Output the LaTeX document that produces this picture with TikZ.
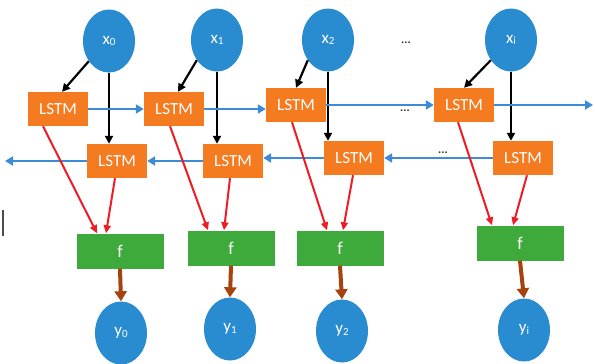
\documentclass[tikz,border=0pt]{standalone}
\usepackage{fontspec}
\setmainfont{Carlito}
\usetikzlibrary{arrows.meta,shapes.geometric}
\definecolor{nodeblue}{HTML}{2A8CD0}
\definecolor{lstmorange}{HTML}{F57B21}
\definecolor{fgreen}{HTML}{3FAA3C}
\definecolor{flowblue}{HTML}{3C8AD8}
\definecolor{gatered}{HTML}{EE1C24}
\definecolor{outbrown}{HTML}{A5420E}
\newcommand\sublabel[2]{#1\raisebox{-1.5pt}{\fontsize{11}{11}\selectfont #2}}
\begin{document}
\begin{tikzpicture}[x=1pt,y=-1pt,
  blob/.style={ellipse, fill=nodeblue, minimum width=52pt, minimum height=63pt,
    inner sep=0pt, text=white, font=\fontsize{17}{17}\selectfont},
  lstm/.style={rectangle, fill=lstmorange, minimum width=60pt, minimum height=34pt,
    inner sep=0pt, text=white, font=\fontsize{17}{17}\selectfont},
  fbox/.style={rectangle, fill=fgreen, minimum width=87pt, minimum height=35pt,
    inner sep=0pt, text=white, font=\fontsize{18}{18}\selectfont},
  inarrow/.style={draw=black, line width=2.2pt, -{Triangle[length=8pt,width=8pt]}},
  flow/.style={draw=flowblue, line width=2.6pt, -{Triangle[length=8pt,width=9pt]}},
  gate/.style={draw=gatered, line width=2pt, -{Triangle[length=8pt,width=7pt]}},
  outarrow/.style={draw=outbrown, line width=4pt, -{Triangle[length=10pt,width=12pt]}},
  dots/.style={font=\fontsize{12}{12}\selectfont\bfseries, text=black!80}]
\useasboundingbox (0,0) rectangle (595,364);
\fill[white] (0,0) rectangle (595,364);

% inputs
\node[blob] (x0) at (109,41) {\sublabel{x}{0}};
\node[blob] (x1) at (217,40) {\sublabel{x}{1}};
\node[blob] (x2) at (328,40) {\sublabel{x}{2}};
\node[blob] (xi) at (511,40) {\sublabel{x}{i}};

% forward LSTM row
\node[lstm] (fa0) at (58,109) {LSTM};
\node[lstm] (fa1) at (174,109) {LSTM};
\node[lstm] (fa2) at (296,105) {LSTM};
\node[lstm] (fai) at (464,105) {LSTM};

% backward LSTM row
\node[lstm] (ba0) at (117,161) {LSTM};
\node[lstm] (ba1) at (233,161) {LSTM};
\node[lstm] (ba2) at (354,158) {LSTM};
\node[lstm] (bai) at (523,158) {LSTM};

% combining layer
\node[fbox] (f0) at (120,251) {f};
\node[fbox] (f1) at (231,248) {f};
\node[fbox] (f2) at (340,248) {f};
\node[fbox] (fi) at (520,243) {f};

% outputs
\node[blob] (y0) at (121,333) {\sublabel{y}{0}};
\node[blob] (y1) at (230,329) {\sublabel{y}{1}};
\node[blob] (y2) at (342,331) {\sublabel{y}{2}};
\node[blob] (yi) at (524,330) {\sublabel{y}{i}};

\coordinate (fwdend) at (593,105);
\coordinate (bwdend) at (5,161);

% ellipsis markers
\node[dots] (d1) at (406,43) {...};
\node[dots] (d2) at (405,111) {...};
\node[dots] (d3) at (443,153) {...};

% inputs into both directions
\foreach \x/\a/\s in {x0/fa0/4, x1/fa1/4, x2/fa2/0, xi/fai/0} {
  \draw[inarrow] (\x.225) -- ([xshift=\s pt]\a.north);
}
\foreach \x/\b in {x0/ba0, x1/ba1, x2/ba2, xi/bai} {
  \draw[inarrow] (\x.south) -- (\x.south |- \b.north);
}

% forward recurrence
\draw[flow] (fa0.east) -- (fa0.east -| fa1.west);
\draw[flow] (fa1.east) -- (fa1.east -| fa2.west);
\draw[flow] (fa2.east) -- (fa2.east -| fai.west);
\draw[flow] (fai.east) -- (fwdend);

% backward recurrence
\draw[flow] (bai.west) -- (bai.west -| ba2.east);
\draw[flow] (ba2.west) -- (ba2.west -| ba1.east);
\draw[flow] (ba1.west) -- (ba1.west -| ba0.east);
\draw[flow] (ba0.west) -- (bwdend);

% both directions feed f
\draw[gate] ([xshift=-15pt]fa0.south) -- ([xshift=-23pt]f0.north);
\draw[gate] ([xshift=-2pt]ba0.south) -- ([xshift=-14pt]f0.north);
\draw[gate] ([xshift=-4pt]fa1.south) -- ([xshift=-23pt]f1.north);
\draw[gate] ([xshift=-3pt]ba1.south) -- ([xshift=-7pt]f1.north);
\draw[gate] ([xshift=-4pt]fa2.south) -- ([xshift=-13pt]f2.north);
\draw[gate] ([xshift=-1pt]ba2.south) -- ([xshift=3pt]f2.north);
\draw[gate] ([xshift=-6pt]fai.south) -- ([xshift=-28pt]fi.north);
\draw[gate] ([xshift=4pt]bai.south) -- ([xshift=-7pt]fi.north);

% outputs
\draw[outarrow] (f0.south) -- (y0.north);
\draw[outarrow] (f1.south) -- (y1.north);
\draw[outarrow] (f2.south) -- (y2.north);
\draw[outarrow] (fi.south) -- (yi.north);

% stray mark at the left edge
\draw[black!70, line width=1.2pt] (3,210) -- (3,236);
\end{tikzpicture}
\end{document}
